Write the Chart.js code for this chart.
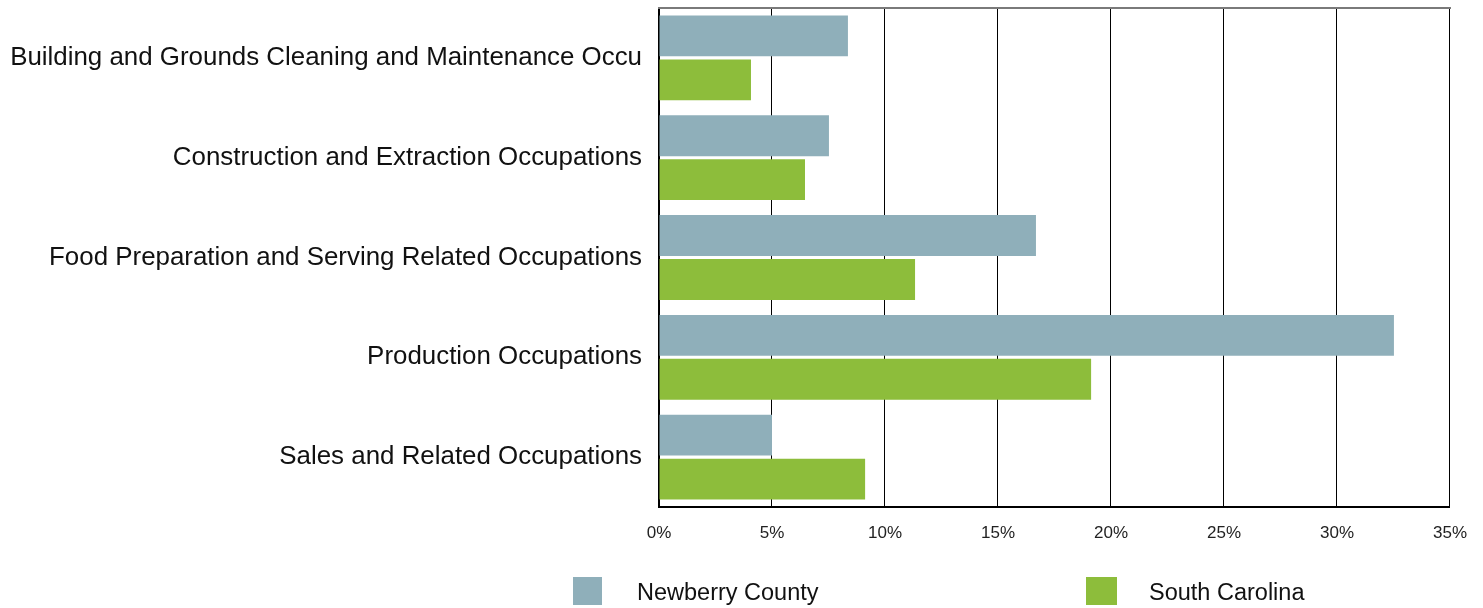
<!DOCTYPE html>
<html>
<head>
<meta charset="utf-8">
<script src="https://cdn.jsdelivr.net/npm/chart.js@4.4.1/dist/chart.umd.min.js"></script>
<style>
html,body{margin:0;padding:0;background:#fff;}
#wrap{position:relative;width:1483px;height:608px;}
#c{position:absolute;left:0;top:0;}
.lg{position:absolute;font-family:"Liberation Sans",Arial,sans-serif;font-size:23.5px;color:#111;line-height:1;}
.sw{position:absolute;width:29px;height:28px;}
</style>
</head>
<body>
<div id="wrap">
<canvas id="c" width="1483" height="608"></canvas>
<div class="sw" style="left:573px;top:577px;background:#8FAFBA"></div>
<div class="lg" style="left:637px;top:581px;">Newberry County</div>
<div class="sw" style="left:1086px;top:577px;width:31px;background:#8DBD3B"></div>
<div class="lg" style="left:1149px;top:581px;">South Carolina</div>
</div>
<script>
const categories = [
  "Building and Grounds Cleaning and Maintenance Occu",
  "Construction and Extraction Occupations",
  "Food Preparation and Serving Related Occupations",
  "Production Occupations",
  "Sales and Related Occupations"
];
const newberryCounty = [8.36, 7.52, 16.68, 32.52, 5.0];
const southCarolina = [4.07, 6.46, 11.33, 19.12, 9.12];
const xTicks = [0, 5, 10, 15, 20, 25, 30, 35];

const topBorder = {
  id: 'topBorder',
  afterDraw(chart) {
    const {ctx, chartArea} = chart;
    ctx.save();
    ctx.strokeStyle = '#7a7a7a';
    ctx.lineWidth = 2;
    ctx.beginPath();
    ctx.moveTo(chartArea.left - 1, chartArea.top);
    ctx.lineTo(chartArea.right + 1, chartArea.top);
    ctx.stroke();
    ctx.restore();
  }
};

new Chart(document.getElementById('c'), {
  type: 'bar',
  data: {
    labels: categories,
    datasets: [
      {label: 'Newberry County', data: newberryCounty, backgroundColor: '#8FAFBA'},
      {label: 'South Carolina', data: southCarolina, backgroundColor: '#8DBD3B'}
    ]
  },
  options: {
    indexAxis: 'y',
    responsive: false,
    animation: false,
    devicePixelRatio: 1,
    categoryPercentage: 0.88,
    barPercentage: 0.93,
    layout: {padding: {top: 8, right: 33, bottom: 0, left: 0}},
    plugins: {legend: {display: false}, tooltip: {enabled: false}},
    scales: {
      x: {
        min: 0, max: 35,
        afterBuildTicks(scale) { scale.ticks = xTicks.map(v => ({value: v})); },
        afterFit(scale) { scale.height = 101; },
        grid: {color: '#000', lineWidth: 1, drawTicks: false},
        border: {color: '#000', width: 2},
        ticks: {
          padding: 16,
          color: '#222',
          font: {family: '"Liberation Sans", Arial, sans-serif', size: 17},
          callback: v => v + '%'
        }
      },
      y: {
        afterFit(scale) { scale.width = 659; scale.paddingTop = 0; scale.paddingBottom = 0; },
        grid: {display: false, drawTicks: false},
        border: {color: '#000', width: 2},
        ticks: {
          padding: 17,
          color: '#111',
          font: {family: '"Liberation Sans", Arial, sans-serif', size: 25.9}
        }
      }
    }
  },
  plugins: [topBorder]
});
</script>
</body>
</html>
